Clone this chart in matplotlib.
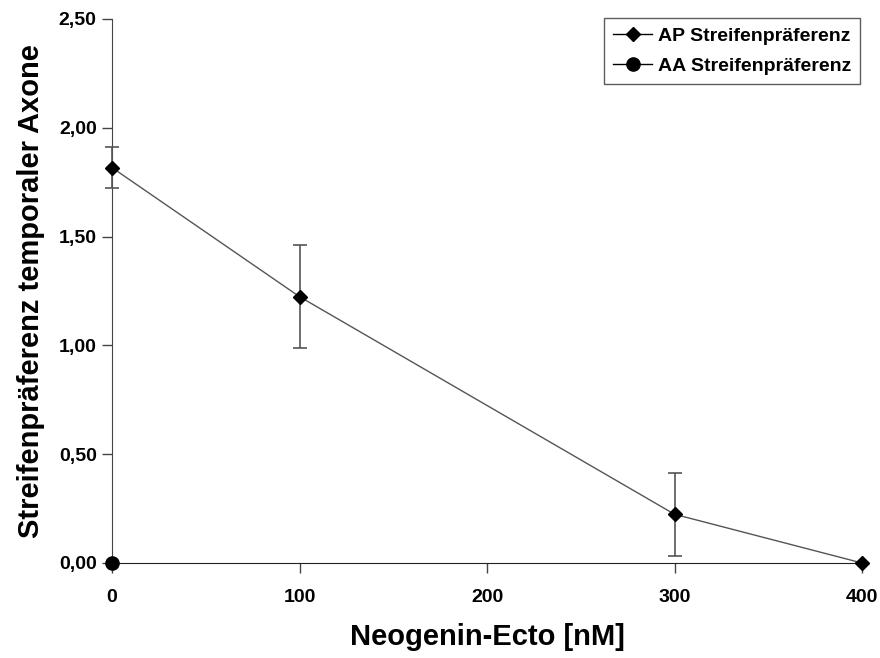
import numpy as np
import matplotlib
matplotlib.use("Agg")
import matplotlib.pyplot as plt
from matplotlib.ticker import FuncFormatter
from matplotlib.lines import Line2D

# data
conc_ap = [0, 100, 300, 400]
pref_ap = [1.817, 1.224, 0.224, 0.0]
err_ap = [0.095, 0.237, 0.19, 0.0]

conc_aa = [0]
pref_aa = [0.0]

x_ticks = [0, 100, 200, 300, 400]
y_ticks = [0.0, 0.5, 1.0, 1.5, 2.0, 2.5]

plt.rcParams['font.family'] = ['Liberation Sans', 'DejaVu Sans']
plt.rcParams['font.weight'] = 'bold'

fig = plt.figure(figsize=(8.8, 6.58), dpi=100)
ax = fig.add_axes([112/880, 1 - 563/658, 750/880, 544/658])

ax.errorbar(conc_ap, pref_ap, yerr=err_ap, color='#555555', lw=1.0,
            marker='D', markersize=7, mfc='black', mec='black',
            ecolor='#555555', elinewidth=1.2, capsize=5, capthick=1.2,
            clip_on=False, zorder=3)
ax.plot(conc_aa, pref_aa, color='black', lw=1.0, marker='o', markersize=9.5,
        clip_on=False, zorder=4)

ax.set_xlim(0, 400)
ax.set_ylim(0, 2.5)
ax.set_xticks(x_ticks)
ax.set_yticks(y_ticks)
ax.yaxis.set_major_formatter(FuncFormatter(lambda v, p: f'{v:.2f}'.replace('.', ',')))

for s in ['top', 'right']:
    ax.spines[s].set_visible(False)
ax.spines['left'].set_color('#444444')
ax.spines['bottom'].set_color('#222222')
ax.tick_params(axis='both', direction='out', length=7, width=1, color='#444444',
               labelsize=14)
ax.tick_params(axis='x', pad=12)
ax.tick_params(axis='y', pad=4)
for lab in ax.get_xticklabels() + ax.get_yticklabels():
    lab.set_fontweight('bold')

ax.set_xlabel('Neogenin-Ecto [nM]', fontsize=21, fontweight='bold', labelpad=12)
ax.set_ylabel('Streifenpräferenz temporaler Axone', fontsize=21, fontweight='bold', labelpad=10)

h_ap = Line2D([], [], color='black', lw=1.0, marker='D', markersize=7)
h_aa = Line2D([], [], color='black', lw=1.0, marker='o', markersize=9.5)
leg = ax.legend([h_ap, h_aa], ['AP Streifenpräferenz', 'AA Streifenpräferenz'],
                loc='upper right', bbox_to_anchor=(1.0, 1.005), fontsize=14,
                frameon=True, fancybox=False, edgecolor='#333333',
                handlelength=2.0, handletextpad=0.3, borderpad=0.45,
                labelspacing=0.65, borderaxespad=0.1)
leg.get_frame().set_linewidth(1.0)
for t in leg.get_texts():
    t.set_fontweight('bold')

fig.savefig('out.png', dpi=100)
